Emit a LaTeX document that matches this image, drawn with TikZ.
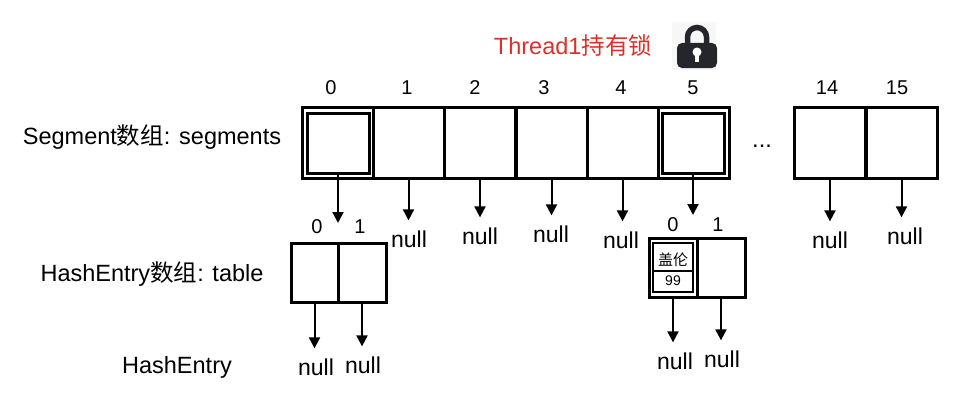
\documentclass[tikz,border=0pt]{standalone}
\usepackage{fontspec}
\setmainfont{Liberation Sans}
\newfontfamily\cjk{Noto Sans CJK SC}
\usetikzlibrary{arrows.meta}
\definecolor{lockc}{RGB}{37,38,43}
\definecolor{redt}{RGB}{218,50,42}
\begin{document}
\begin{tikzpicture}[x=1pt,y=-1pt,
  lbl/.style={font=\fontsize{23.5}{28}\selectfont, inner sep=0pt},
  idx/.style={font=\fontsize{20}{24}\selectfont, inner sep=0pt},
  nul/.style={font=\fontsize{23}{27}\selectfont, inner sep=1pt},
  cell/.style={draw, line width=3pt, minimum width=71pt, minimum height=71pt, inner sep=0pt},
  inbox/.style={draw, line width=3pt, minimum width=62pt, minimum height=60pt, inner sep=0pt},
  tcell/.style={draw, line width=3pt, minimum width=48pt, minimum height=59pt, inner sep=0pt},
  arr/.style={line width=2pt, -{Triangle[length=11pt,width=11pt]}},
  narr/.style={arr, shorten >=9pt},
  small/.style={font=\fontsize{14}{16}\selectfont, inner sep=0pt}
]
\useasboundingbox (0,0) rectangle (968,404);

% title and lock
\node[lbl, text=redt] (title) at (573,46) {Thread1{\cjk 持有锁}};
\fill[black!3] (672,22) rectangle (716,70);
\draw[lockc, line width=5.5pt] (687.5,46) -- (687.5,37) arc[start angle=180, end angle=360, radius=9.5] -- (706.5,46);
\fill[lockc, rounded corners=5pt] (677,43) rectangle (717,68);
\fill[white] (697,52) circle (4.5);
\fill[white] (695.3,52) rectangle (698.7,62);

% left labels
\node[lbl] (lseg) at (152,137) {Segment{\cjk 数组}: segments};
\node[lbl] (ltab) at (152,274) {HashEntry{\cjk 数组}: table};
\node[lbl] (lent) at (177,367) {HashEntry};

% segment array
\foreach \i/\x in {0/337.5,1/408.5,2/480,3/551.5,4/622.5,5/693.5,14/830,15/901.5}
  \node[cell] (s\i) at (\x,143) {};
\node[inbox] (s0in) at (338,143) {};
\node[inbox] (s5in) at (693,143) {};
\node[lbl] (dots) at (762,146) {...};

% indices
\foreach \i/\x in {0/331,1/407,2/475,3/544,4/621,5/693,14/827,15/897}
  \node[idx] (i\i) at (\x,88) {\i};

% nulls of segments
\node[nul] (n1) at (409,239) {null};
\node[nul] (n2) at (480,236) {null};
\node[nul] (n3) at (551,234) {null};
\node[nul] (n4) at (621,240) {null};
\node[nul] (n14) at (830,240) {null};
\node[nul] (n15) at (905,236) {null};
\foreach \i in {1,2,3,4,14,15}
  \draw[narr] (s\i.south) -- (s\i.south |- n\i.north);

% left table
\node[tcell, minimum width=47pt] (t0) at (314.5,272.5) {};
\node[tcell] (t1) at (362,272.5) {};
\node[idx] (ti0) at (317,227) {0};
\node[idx] (ti1) at (360,227) {1};
\coordinate (a0) at (338,223);
\draw[arr] (s0in.south) -- (s0in.south |- a0);
\node[nul] (tn0) at (316,367) {null};
\node[nul] (tn1) at (363,365) {null};
\draw[narr] (t0.south) -- (t0.south |- tn0.north);
\draw[narr] (t1.south) -- (t1.south |- tn1.north);

% right table
\node[tcell] (r0) at (673,267.5) {};
\node[tcell] (r1) at (721,267.5) {};
\node[draw, line width=2.7pt, minimum width=40pt, minimum height=49pt, inner sep=0pt] (rin) at (673,267.5) {};
\draw[line width=2pt] ([yshift=-3.5pt]rin.west) -- ([yshift=-3.5pt]rin.east);
\node[small, font=\fontsize{15}{17}\selectfont\cjk] (name) at (673,260) {盖伦};
\node[small] (val) at (673,281) {99};
\node[idx] (ri0) at (673,225) {0};
\node[idx] (ri1) at (718,225) {1};
\coordinate (a5) at (693,215);
\draw[arr] (s5in.south) -- (s5in.south |- a5);
\node[nul] (rn0) at (675,361) {null};
\node[nul] (rn1) at (722,359) {null};
\draw[narr] (r0.south) -- (r0.south |- rn0.north);
\draw[narr] (r1.south) -- (r1.south |- rn1.north);
\end{tikzpicture}
\end{document}
